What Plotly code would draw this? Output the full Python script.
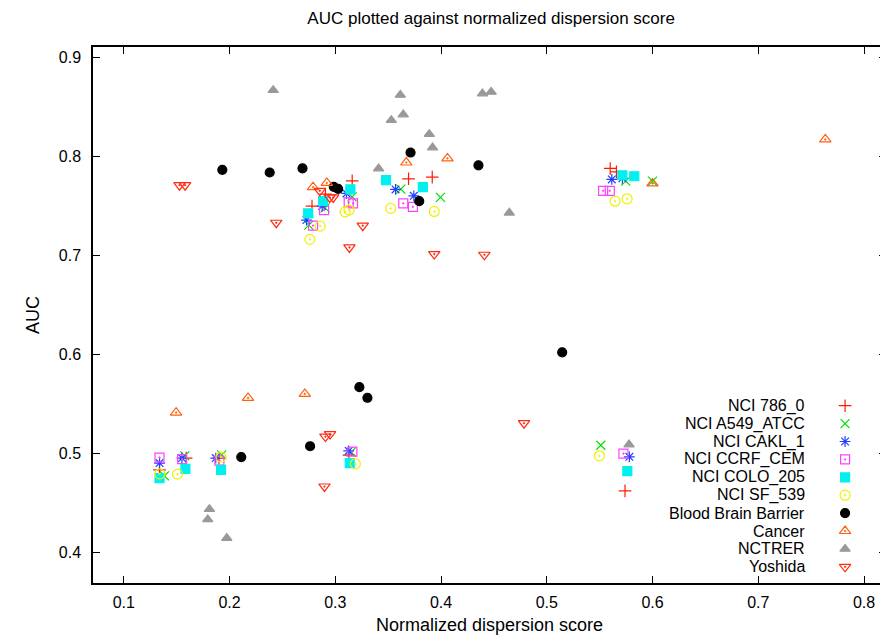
import plotly.graph_objects as go

# ---------------- data ----------------
nci786_x = [0.316, 0.2907, 0.278, 0.3693, 0.3917, 0.560, 0.5659, 0.1338, 0.159, 0.190, 0.313, 0.574]
nci786_y = [0.7754, 0.762, 0.7498, 0.7774, 0.7791, 0.7879, 0.7844, 0.4831, 0.495, 0.495, 0.498, 0.4619]

a549_x = [0.3159, 0.2904, 0.275, 0.362, 0.3995, 0.5747, 0.600, 0.1385, 0.1577, 0.1926, 0.315, 0.5511]
a549_y = [0.7592, 0.748, 0.7306, 0.767, 0.7586, 0.775, 0.775, 0.477, 0.4973, 0.4983, 0.501, 0.508]

cakl_x = [0.3106, 0.2876, 0.2728, 0.357, 0.3743, 0.5615, 0.5715, 0.1338, 0.155, 0.187, 0.3127, 0.5781]
cakl_y = [0.7626, 0.7498, 0.7357, 0.7667, 0.7602, 0.7768, 0.778, 0.490, 0.495, 0.495, 0.5023, 0.4963]

ccrf_x = [0.3127, 0.3168, 0.2894, 0.279, 0.3643, 0.3734, 0.5533, 0.5596, 0.1338, 0.1552, 0.1904, 0.3162, 0.5725]
ccrf_y = [0.7535, 0.7525, 0.7458, 0.730, 0.7525, 0.749, 0.7653, 0.7653, 0.4955, 0.494, 0.4925, 0.5016, 0.4996]

colo_x = [0.3143, 0.2885, 0.2744, 0.348, 0.3828, 0.5715, 0.5828, 0.1338, 0.1583, 0.192, 0.3137, 0.5762]
colo_y = [0.7667, 0.755, 0.7424, 0.776, 0.769, 0.781, 0.780, 0.4747, 0.4841, 0.4831, 0.490, 0.4818]

sf539_x = [0.3093, 0.313, 0.2857, 0.276, 0.3524, 0.3936, 0.5646, 0.576, 0.134, 0.1508, 0.192, 0.319, 0.5498]
sf539_y = [0.744, 0.7458, 0.7296, 0.7162, 0.7475, 0.7444, 0.7548, 0.7572, 0.4791, 0.4788, 0.496, 0.4892, 0.4973]

bbb_x = [0.1932, 0.238, 0.269, 0.2986, 0.3027, 0.3712, 0.4354, 0.3794, 0.3228, 0.3304, 0.2762, 0.2111, 0.5146]
bbb_y = [0.7865, 0.7838, 0.788, 0.7693, 0.7673, 0.804, 0.791, 0.7548, 0.5667, 0.556, 0.507, 0.496, 0.602]

cancer_x = [0.279, 0.292, 0.3672, 0.4061, 0.600, 0.7634, 0.1495, 0.2175, 0.2712]
cancer_y = [0.769, 0.7733, 0.7939, 0.798, 0.7727, 0.8172, 0.541, 0.5558, 0.5599]

nctrer_x = [0.2413, 0.3410, 0.3615, 0.4392, 0.4474, 0.353, 0.3643, 0.3889, 0.392, 0.4646, 0.181, 0.1794, 0.1974, 0.5778]
nctrer_y = [0.867, 0.7878, 0.8622, 0.8636, 0.8653, 0.8367, 0.8424, 0.8225, 0.809, 0.743, 0.4434, 0.433, 0.4141, 0.5087]

yoshida_x = [0.1527, 0.158, 0.2854, 0.2948, 0.298, 0.2442, 0.326, 0.3134, 0.3936, 0.441, 0.2907, 0.2951, 0.2898, 0.4785]
yoshida_y = [0.771, 0.771, 0.7653, 0.7586, 0.7586, 0.733, 0.730, 0.708, 0.7013, 0.7006, 0.5168, 0.5193, 0.4663, 0.5303]

x_ticks = [0.1, 0.2, 0.3, 0.4, 0.5, 0.6, 0.7, 0.8]
y_ticks = [0.4, 0.5, 0.6, 0.7, 0.8, 0.9]

series = [
    ("NCI 786_0", nci786_x, nci786_y, "cross-thin-open", "#ff1a00", 9),
    ("NCI A549_ATCC", a549_x, a549_y, "x-thin-open", "#00e000", 9),
    ("NCI CAKL_1", cakl_x, cakl_y, "asterisk-open", "#2040ff", 9),
    ("NCI CCRF_CEM", ccrf_x, ccrf_y, "square-open-dot", "#ff40ff", 9),
    ("NCI COLO_205", colo_x, colo_y, "square", "#00f0f0", 9),
    ("NCI SF_539", sf539_x, sf539_y, "circle-open-dot", "#f0f000", 10),
    ("Blood Brain Barrier", bbb_x, bbb_y, "circle", "#000000", 9),
    ("Cancer", cancer_x, cancer_y, "triangle-up-open-dot", "#ff6010", 10),
    ("NCTRER", nctrer_x, nctrer_y, "triangle-up", "#999999", 9),
    ("Yoshida", yoshida_x, yoshida_y, "triangle-down-open-dot", "#ff2a10", 10),
]

FONT = "Liberation Sans, Arial, Helvetica, sans-serif"

fig = go.Figure()
for name, xs, ys, sym, col, sz in series:
    fig.add_trace(go.Scatter(
        x=xs, y=ys, mode="markers", name=name, showlegend=False,
        marker=dict(symbol=sym, size=sz, color=col, line=dict(color=col, width=1.2)),
    ))

# gnuplot-style key: right-aligned text with the symbol to its right
key_top, key_step = 0.3308, 0.0334
for i, (name, xs, ys, sym, col, sz) in enumerate(series):
    ky = key_top - i * key_step
    fig.add_trace(go.Scatter(
        x=[0.9484], y=[ky], xaxis="x2", yaxis="y2", mode="markers", showlegend=False,
        marker=dict(symbol=sym, size=sz, color=col, line=dict(color=col, width=1.2)),
        hoverinfo="skip",
    ))
    fig.add_annotation(x=0.9006, y=ky, xref="x2", yref="y2", text=name,
                       showarrow=False, xanchor="right", yanchor="middle",
                       font=dict(family=FONT, size=16, color="black"))

axis_common = dict(showline=True, linecolor="black", linewidth=1.5, mirror="ticks",
                   ticks="inside", ticklen=7, tickwidth=1, tickcolor="black",
                   showgrid=False, zeroline=False,
                   tickfont=dict(family=FONT, size=16, color="black"))

# the page body has an 8px margin, so the figure is sized to the visible window
fig.update_layout(
    width=880, height=631,
    margin=dict(l=85, r=0, t=39, b=56),
    plot_bgcolor="white", paper_bgcolor="white",
    title=dict(text="AUC plotted against normalized dispersion score",
               x=0.549, xanchor="center", y=0.984, yanchor="middle",
               font=dict(family=FONT, size=17, color="black")),
    xaxis=dict(range=[0.0709, 0.8208], tickvals=x_ticks, ticktext=[str(v) for v in x_ticks],
               ticklabelstandoff=4,
               title=dict(text="Normalized dispersion score", standoff=8,
                          font=dict(family=FONT, size=18, color="black")),
               **axis_common),
    yaxis=dict(range=[0.3687, 0.9107], tickvals=y_ticks, ticktext=[str(v) for v in y_ticks],
               ticklabelstandoff=7,
               title=dict(text="AUC", standoff=14,
                          font=dict(family=FONT, size=18, color="black")),
               **axis_common),
    xaxis2=dict(overlaying="x", range=[0, 1], visible=False),
    yaxis2=dict(overlaying="y", range=[0, 1], visible=False),
)

fig.write_html("out.html")
